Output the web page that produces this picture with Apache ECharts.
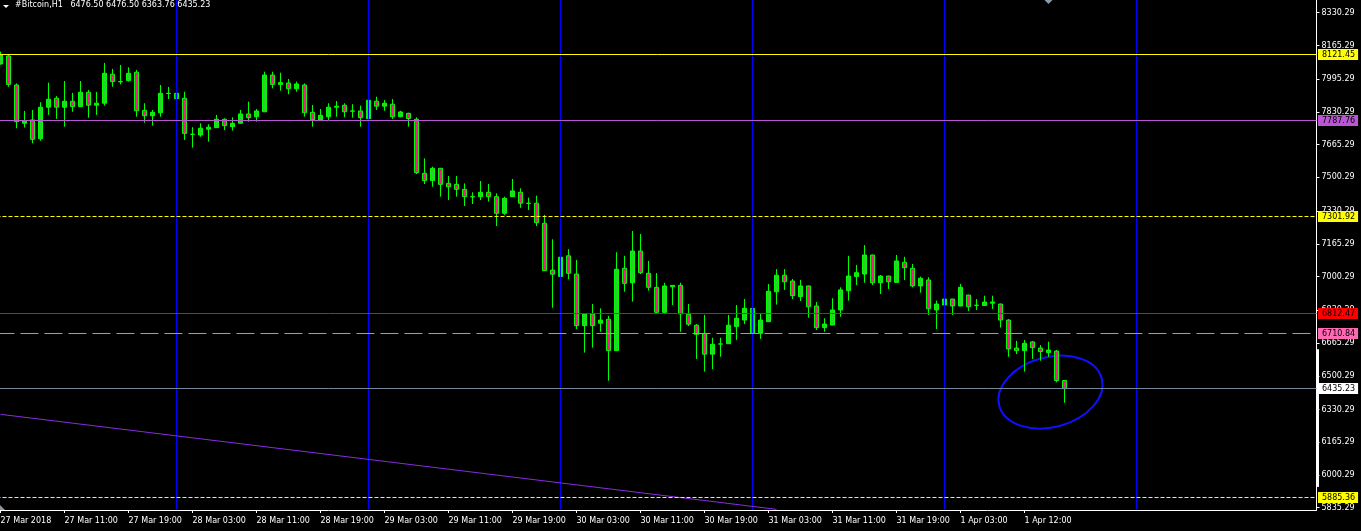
<!DOCTYPE html>
<html><head><meta charset="utf-8">
<script src="https://cdn.jsdelivr.net/npm/echarts@6/dist/echarts.min.js"></script>
<style>html,body{margin:0;padding:0;background:#000;}#c{width:1361px;height:531px;}</style>
</head><body><div id="c"></div>
<script>
// ---- data ----
const headerText = '#Bitcoin,H1   6476.50 6476.50 6363.76 6435.23';
const tickLabels = ['27 Mar 2018','27 Mar 11:00','27 Mar 19:00','28 Mar 03:00','28 Mar 11:00','28 Mar 19:00',
  '29 Mar 03:00','29 Mar 11:00','29 Mar 19:00','30 Mar 03:00','30 Mar 11:00','30 Mar 19:00',
  '31 Mar 03:00','31 Mar 11:00','31 Mar 19:00','1 Apr 03:00','1 Apr 12:00'];
const yTickValues = [8330.29,8165.29,7995.29,7830.29,7665.29,7500.29,7330.29,7165.29,7000.29,6830.29,
  6665.29,6500.29,6330.29,6165.29,6000.29,5835.29];
const opens = [8072,8112,7966,7773,7790,7695,7854,7899,7854,7884,7857,7929,7864,7874,8020,7983,7988,8030,7838,7811,
  7826,7924,7924,7899,7718,7714,7743,7751,7793,7756,7773,7820,7806,7831,8016,7969,7976,7947,7966,7828,
  7790,7806,7854,7864,7835,7835,7796,7884,7859,7869,7806,7823,7793,7521,7484,7546,7470,7465,7440,7403,
  7403,7425,7403,7319,7403,7425,7370,7370,7269,7033,7001,7105,7013,6753,6812,6765,6785,6627,7042,6969,
  7129,7017,6946,6820,6949,6956,6810,6755,6714,6609,6661,6662,6748,6781,6840,6714,6773,6924,7007,6978,
  6899,6953,6852,6743,6756,6832,6929,7001,7013,7109,6969,7003,6971,7072,7042,6953,6983,6832,6857,6887,
  6852,6907,6856,6854,6866,6862,6781,6640,6627,6671,6640,6617,6625,6476.5];
const closes = [8117,7969,7781,7786,7692,7854,7894,7854,7884,7857,7929,7864,7874,8025,7983,7982,8025,7836,7811,7828,
  7924,7923,7897,7722,7717,7748,7753,7793,7761,7773,7820,7801,7835,8016,7969,7978,7947,7971,7826,7790,
  7813,7854,7859,7831,7834,7801,7889,7859,7874,7806,7830,7797,7524,7484,7546,7465,7453,7440,7403,7402,
  7425,7403,7319,7395,7432,7370,7369,7272,7030,7012,7098,7017,6753,6812,6753,6781,6627,7037,6966,7129,
  7020,6946,6820,6953,6956,6812,6760,6709,6609,6659,6660,6755,6790,6840,6714,6781,6926,7007,6974,6904,
  6953,6848,6743,6761,6832,6933,7003,7020,7109,6969,7003,6974,7079,7045,6953,6992,6838,6862,6887,6852,
  6946,6848,6855,6872,6872,6781,6635,6627,6664,6642,6622,6630,6476.5,6435.23];
const lows = [8068,7957,7748,7751,7672,7685,7815,7795,7756,7831,7856,7801,7815,7862,7957,7969,7983,7806,7776,7761,
  7806,7895,7836,7689,7650,7705,7680,7750,7739,7736,7772,7781,7781,7830,7949,7937,7919,7932,7806,7756,
  7789,7790,7806,7803,7801,7756,7790,7840,7836,7795,7803,7756,7517,7467,7453,7403,7386,7403,7356,7366,
  7386,7378,7255,7311,7402,7347,7336,7255,7028,6843,6999,6987,6736,6617,6642,6722,6475,6625,6924,6874,
  7013,6929,6815,6815,6857,6722,6751,6585,6521,6534,6596,6661,6681,6761,6681,6686,6772,6859,6933,6887,
  6877,6793,6731,6722,6755,6798,6879,6958,6969,6958,6912,6938,6970,6983,6946,6919,6807,6736,6827,6807,
  6851,6827,6832,6853,6837,6743,6596,6610,6521,6585,6576,6596,6467,6363.76];
const highs = [8134,8122,7974,7835,7840,7879,7978,7910,7986,7926,7986,7941,7931,8077,8047,8067,8055,8042,7874,7840,
  7966,7956,7941,7932,7753,7773,7768,7815,7798,7803,7840,7882,7845,8033,8033,8028,7996,7983,7974,7865,
  7845,7874,7885,7874,7869,7862,7932,7907,7890,7895,7836,7826,7803,7596,7554,7548,7507,7507,7470,7425,
  7482,7467,7420,7403,7492,7445,7398,7408,7311,7188,7269,7138,7084,6813,6862,6840,6802,7123,7105,7230,
  7215,7079,7018,6969,6957,6969,6862,6761,6807,6692,6692,6807,6857,6887,6841,6812,6963,7038,7038,6988,
  6983,6954,6872,6790,6891,6946,7105,7059,7159,7110,7008,7004,7109,7100,7064,7000,6997,6879,6912,6888,
  6963,6908,6887,6904,6904,6863,6786,6676,6681,6676,6655,6672,6630,6476.5];
const slotCount = 165;                       // bars shown incl. empty right shift
const separatorBars = [22, 46, 70, 94, 118, 142];
const levelValues = [8121.45, 7787.76, 7301.92, 6812.47, 6710.84, 6435.23, 5885.36];
const trendLine = [[0, 6306], [97, 5827]];
const circleCenter = [131, 6418];
const rightBar = [6634, 5940];
const yMin = 5823.7, yMax = 8394.3;

// ---- styles ----
const FONT = 'DejaVu Sans';
const levelStyles = [
  {line:'#ffff00', type:'solid', tag:'#ffff00'},
  {line:'#ba55d3', type:'solid', tag:'#ba55d3'},
  {line:'#ffff00', type:[4,2], tag:'#ffff00'},
  {line:'#ff0000', type:'solid', tag:'#ff0000'},
  {line:'#ff69b4', type:[18,6], tag:'#ff69b4'},
  {line:'#778899', type:'solid', tag:'#ffffff'},
  {line:'#ffff00', type:[4,2], tag:'#ffff00'}
];

const chart = echarts.init(document.getElementById('c'));
const categories = Array.from({length: slotCount}, (_, i) => String(i));
const candles = opens.map((o, i) => [o, closes[i], lows[i], highs[i]]);

function buildMarks(levelDrawValues) {
  const markData = [];
  separatorBars.forEach(b => markData.push({xAxis: b, lineStyle:{color:'#0000ff', width:1, type:'solid'}, label:{show:false}}));
  markData.push([{coord: trendLine[0]}, {coord: trendLine[1], lineStyle:{color:'#8a2be2', width:1, type:'solid'}, label:{show:false}}]);
  levelValues.forEach((v, i) => {
    const s = levelStyles[i];
    markData.push({yAxis: levelDrawValues[i], lineStyle:{color:s.line, width:1, type:s.type},
      label:{show:true, position:'end', distance:1.5, formatter: v.toFixed(2), color:'#000000', backgroundColor:s.tag,
        padding:[1,3,1,4], fontSize:8, fontFamily:FONT, lineHeight:9}});
  });
  return markData;
}

const option = {
  backgroundColor: '#000000',
  animation: false,
  title: {text: headerText, left: 15, top: 1, padding: 0,
    textStyle: {color:'#ffffff', fontSize:8, fontFamily:FONT, fontWeight:'normal'}},
  grid: {left: -3.5, right: 44.5, top: 0, bottom: 21, containLabel: false, outerBoundsMode: 'none'},
  xAxis: {
    type: 'category', data: categories, boundaryGap: true,
    axisLine: {show:true, lineStyle:{color:'#ffffff', width:1}},
    axisTick: {show:true, alignWithLabel:true, length:3, lineStyle:{color:'#ffffff'},
      interval: (i) => i % 8 === 0 && i / 8 < tickLabels.length},
    axisLabel: {interval: 0, align:'left', margin:6.5, color:'#ffffff', fontSize:8, fontFamily:FONT,
      hideOverlap: false, formatter: (v, i) => (i % 8 === 0 && tickLabels[i / 8]) || ''},
    splitLine: {show:false}
  },
  yAxis: {
    type: 'value', position: 'right', min: yMin, max: yMax,
    axisLine: {show:true, lineStyle:{color:'#ffffff', width:1}},
    axisTick: {show:true, length:3, customValues: yTickValues, lineStyle:{color:'#ffffff'}},
    axisLabel: {customValues: yTickValues, margin:5, color:'#ffffff', fontSize:8, fontFamily:FONT,
      formatter: v => Number(v).toFixed(2)},
    splitLine: {show:false}
  },
  series: [{
    type: 'candlestick', data: candles, barWidth: 4,
    itemStyle: {color:'#32cd32', color0:'#ff1493', borderColor:'#00ff00', borderColor0:'#00ff00',
      borderColorDoji:'#00ff00', borderWidth:1},
    markLine: {symbol:['none','none'], silent:true, animation:false, data: buildMarks(levelValues)}
  }]
};
chart.setOption(option);

// snap level lines onto pixel centres so they draw crisp like the terminal
const toPx = (k, v) => chart.convertToPixel({gridIndex:0}, [k, v]);
const fromPx = (x, y) => chart.convertFromPixel({gridIndex:0}, [x, y]);
const snapped = levelValues.map(v => {
  const p = toPx(0, v);
  return fromPx(p[0], Math.floor(p[1]) + 0.5)[1];
});
const c = toPx(circleCenter[0], circleCenter[1]);
const bTop = toPx(0, rightBar[0])[1], bBot = toPx(0, rightBar[1])[1];
const axisX = toPx(slotCount - 1, yMax)[0] + 4;
const shiftX = toPx(131, yMax)[0];
chart.setOption({
  series: [{markLine: {data: buildMarks(snapped)}}],
  graphic: [
    {type:'polygon', shape:{points:[[3,5],[9,5],[6,8]]}, style:{fill:'#ffffff'}},
    {type:'ellipse', x: c[0] + 2, y: c[1], rotation: 0.26, shape:{cx:0, cy:0, rx:53, ry:35},
      style:{fill:null, stroke:'#1010ff', lineWidth:2}},
    {type:'rect', shape:{x: Math.round(axisX) - 1, y: bTop, width: 3, height: bBot - bTop}, style:{fill:'#ffffff'}},
    {type:'polygon', shape:{points:[[shiftX - 4, 0],[shiftX + 4, 0],[shiftX, 4]]}, style:{fill:'#8a9aae'}},
    {type:'polygon', shape:{points:[[0, 505],[0, 510],[5, 510]]}, style:{fill:'#8a96a0'}}
  ]
});
</script></body></html>
